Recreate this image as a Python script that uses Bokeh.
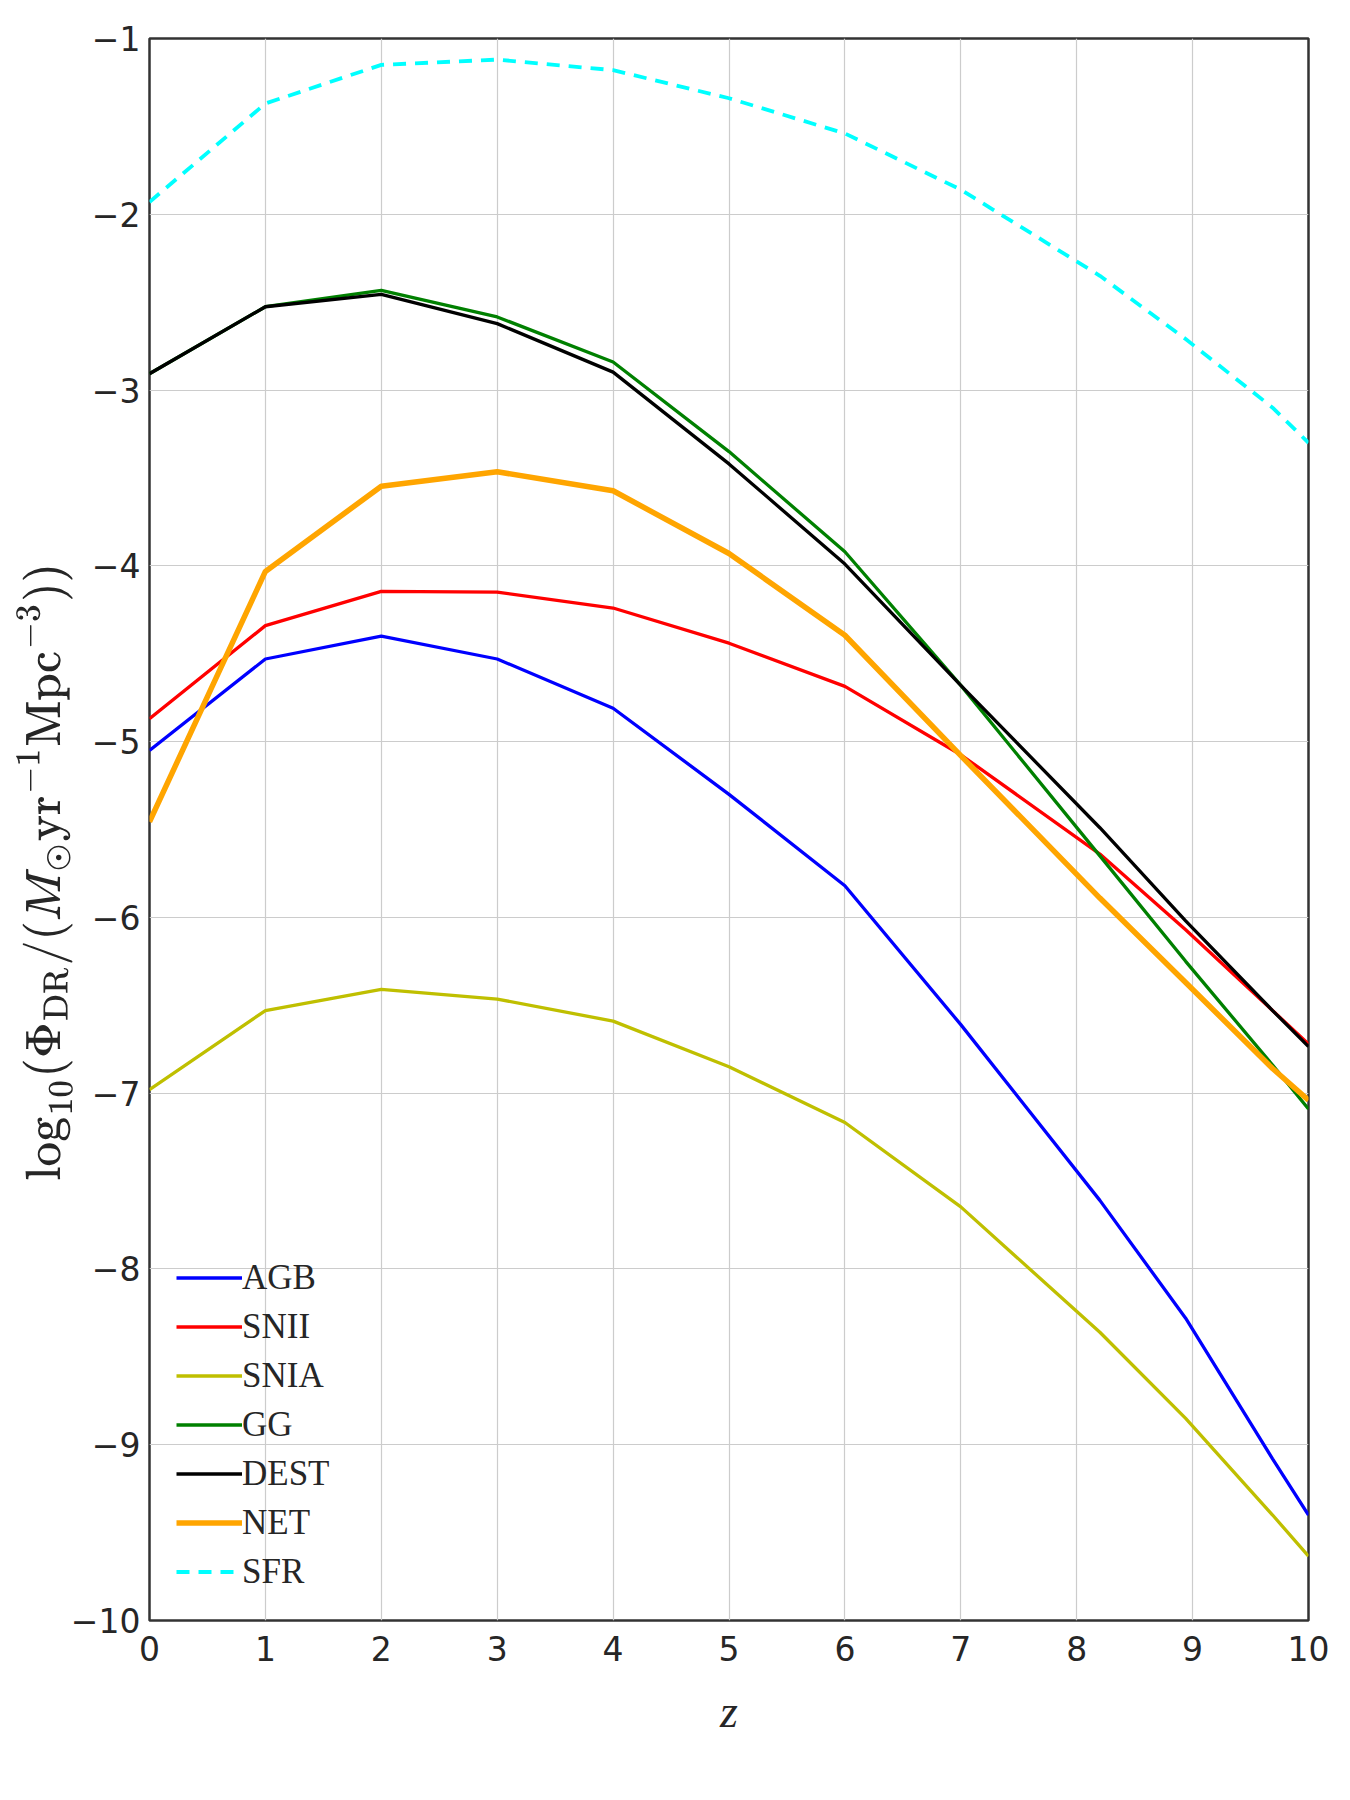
from bokeh.plotting import figure
from bokeh.models import FixedTicker, Legend, LegendItem, Range1d
from bokeh.embed import file_html
from bokeh.resources import INLINE

# Redshift sample points
z = [0, 1, 2, 3, 4, 5, 6, 7, 8.2, 8.94, 9.69, 10]

# log10 of the dust rates for each channel
agb = [-5.05, -4.53, -4.40, -4.53, -4.81, -5.30, -5.82, -6.61, -7.61, -8.28, -9.08, -9.40]
snii = [-4.87, -4.34, -4.145, -4.15, -4.24, -4.44, -4.686, -5.075, -5.64, -6.07, -6.53, -6.72]
snia = [-6.98, -6.53, -6.41, -6.465, -6.59, -6.85, -7.167, -7.647, -8.36, -8.85, -9.40, -9.634]
gg = [-2.907, -2.526, -2.433, -2.584, -2.84, -3.35, -3.92, -4.68, -5.65, -6.25, -6.84, -7.09]
dest = [-2.907, -2.526, -2.456, -2.622, -2.898, -3.42, -3.99, -4.68, -5.49, -6.02, -6.53, -6.735]
net = [-5.456, -4.032, -3.547, -3.465, -3.573, -3.93, -4.395, -5.08, -5.89, -6.37, -6.86, -7.04]
sfr = [-1.93, -1.37, -1.15, -1.12, -1.18, -1.34, -1.54, -1.86, -2.35, -2.71, -3.10, -3.30]

x_ticks = list(range(0, 11))
y_ticks = list(range(-10, 0))

p = figure(width=1350, height=1800, output_backend="svg", toolbar_location=None,
           x_range=Range1d(0, 10), y_range=Range1d(-10, -1),
           min_border_left=149, min_border_right=42,
           min_border_top=38, min_border_bottom=180)

p.background_fill_color = "white"
p.outline_line_color = "#333333"
p.outline_line_width = 2.5

p.xgrid.ticker = FixedTicker(ticks=x_ticks)
p.ygrid.ticker = FixedTicker(ticks=y_ticks)
p.grid.grid_line_color = "#cccccc"
p.grid.grid_line_width = 1.2

p.xaxis.ticker = FixedTicker(ticks=x_ticks)
p.yaxis.ticker = FixedTicker(ticks=y_ticks)
p.yaxis.major_label_overrides = {t: "\u2212" + str(-t) for t in y_ticks}
for ax in (p.xaxis, p.yaxis):
    ax.axis_line_color = None
    ax.major_tick_line_color = None
    ax.minor_tick_line_color = None
    ax.major_label_text_font = "DejaVu Sans"
    ax.major_label_text_font_size = "33px"
    ax.major_label_text_color = "#262626"
p.xaxis.major_label_standoff = 9
p.yaxis.major_label_standoff = 3

p.xaxis.axis_label = "z"
p.xaxis.axis_label_text_font = "Liberation Serif"
p.xaxis.axis_label_text_font_style = "italic"
p.xaxis.axis_label_text_font_size = "46px"
p.xaxis.axis_label_text_color = "#262626"
p.xaxis.axis_label_standoff = 22

p.yaxis.axis_label = r"$$\log_{10}(\Phi_{\rm DR}/(M_\odot{\rm yr}^{-1}{\rm Mpc}^{-3}))\hspace{1.7em}$$"
p.yaxis.axis_label_text_font_size = "40px"
p.yaxis.axis_label_text_color = "#262626"
p.yaxis.axis_label_standoff = -5

series = [
    ("AGB", agb, "#0000ff", 3.3, None),
    ("SNII", snii, "#ff0000", 3.3, None),
    ("SNIA", snia, "#bfbf00", 3.3, None),
    ("GG", gg, "#008000", 3.3, None),
    ("DEST", dest, "#000000", 3.3, None),
    ("NET", net, "#ffa500", 5.5, None),
    ("SFR", sfr, "#00ffff", 3.8, "13 9"),
]

items = []
for name, vals, color, lw, dash in series:
    kw = dict(line_color=color, line_width=lw)
    if dash:
        kw["line_dash"] = dash
    r = p.line(z, vals, **kw)
    items.append(LegendItem(label=name, renderers=[r]))

legend = Legend(items=items, location=(27, 24),
                glyph_width=66, glyph_height=49, label_height=49,
                spacing=0, padding=0, margin=0, label_standoff=0,
                border_line_color=None, background_fill_alpha=0,
                label_text_font="Liberation Serif", label_text_font_size="35px",
                label_text_color="#262626")
p.add_layout(legend)

open("out.html", "w").write(file_html(p, INLINE))
